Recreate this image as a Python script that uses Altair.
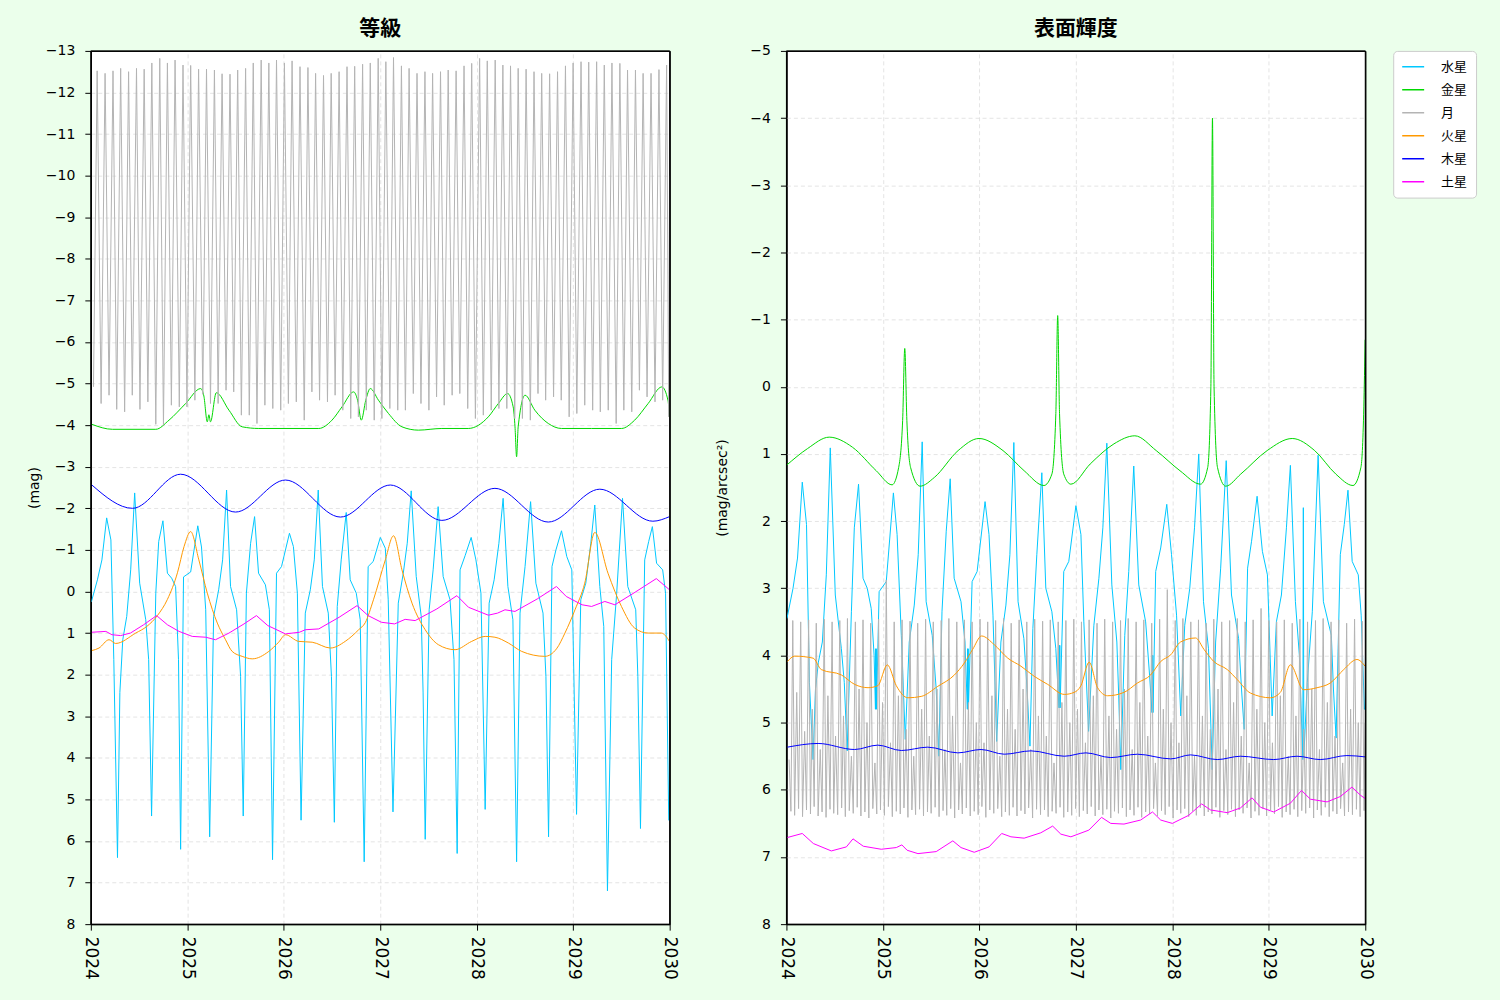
import altair as alt
import pandas as pd

BODIES = ["水星", "金星", "月", "火星", "木星", "土星"]
COLORS = ["#00c8ff", "#00d800", "#b4b4b4", "#ff9900", "#0000ff", "#ff00ff"]

# ---------------- Mercury (days since 2024-01-01) ----------------
merc_day = [2, 25, 42, 60, 76, 87, 101, 110, 121, 136,
            151, 166, 185, 208, 219, 230, 246, 257, 273, 290,
            306, 321, 332, 340, 351, 378, 405, 419, 435, 450,
            465, 484, 499, 514, 529, 552, 567, 577, 589, 605,
            620, 635, 661, 676, 688, 703, 722, 752, 767, 782,
            796, 812, 831, 846, 861, 877, 899, 911, 922, 933,
            948, 967, 982, 1005, 1020, 1035, 1050, 1069, 1096, 1115,
            1126, 1144, 1164, 1183, 1198, 1213, 1232, 1251, 1258, 1266,
            1281, 1296, 1315, 1334, 1360, 1375, 1387, 1398, 1417, 1440,
            1458, 1477, 1493, 1508, 1527, 1545, 1561, 1579, 1598, 1612,
            1625, 1644, 1665, 1685, 1712, 1723, 1733, 1746, 1761, 1782,
            1802, 1821, 1839, 1855, 1874, 1893, 1908, 1927, 1942, 1956,
            1972, 1991, 2013, 2033, 2063, 2071, 2081, 2097, 2112, 2126,
            2142, 2165, 2176, 2188, 2191]
merc_mag = [0.25, -0.28, -0.76, -1.77, -1.24, 1.64, 6.4, 2.43, 1.16, 0.6,
            -0.52, -2.37, -0.2, 0.68, 1.64, 5.4, 0.04, -1.2, -1.7, -0.44,
            -0.32, -0.12, 1.64, 6.2, -0.35, -0.47, -1.58, -1.07, 0.44, 5.9,
            0.6, -0.04, -0.76, -2.44, -0.12, 0.44, 2.04, 5.4, 0.04, -1.16,
            -1.8, -0.44, -0.16, 0.44, 6.45, -0.44, -0.6, -1.4, -1.08, 0.04,
            5.5, 0.52, -0.04, -0.76, -2.44, -0.12, 0.52, 2.04, 5.55, 0.36,
            -0.76, -1.9, -0.28, 0.04, 0.68, 6.5, -0.6, -0.72, -1.3, -1.04,
            0.2, 5.3, 0.28, -0.44, -1.16, -2.42, -0.36, 0.6, 2.44, 5.96,
            0.44, -0.52, -2.04, -0.36, 0.2, 1.64, 6.3, -0.52, -0.86, -1.3,
            -0.76, 0.04, 5.24, 0.28, -0.28, -1.16, -2.24, -0.12, 0.68, 6.5,
            0.52, -0.6, -2.16, -0.2, 0.52, 2.04, 5.9, -0.6, -1.0, -1.46,
            -0.84, -0.52, 5.36, 0.2, -0.2, -1.16, -2.08, -0.12, 0.84, 7.2,
            1.64, 0.04, -2.24, -0.12, 0.44, 2.04, 5.7, -0.76, -1.2, -1.56,
            -0.68, -0.52, 0.04, 5.5, 5.5]
merc_sb_day = [2, 25, 42, 60, 76, 87, 101, 110, 121, 136,
               151, 166, 185, 208, 219, 230, 246, 257, 273, 290,
               306, 321, 332, 337, 338, 339, 340, 341, 351, 378, 405, 419, 435, 450,
               465, 484, 499, 514, 529, 552, 567, 577, 589, 605,
               620, 635, 661, 676, 685, 686, 687, 688, 689, 703, 722, 752, 767, 782,
               796, 812, 831, 846, 861, 877, 899, 911, 922, 933,
               948, 967, 982, 1005, 1020, 1032, 1033, 1034, 1035, 1036, 1050, 1069, 1096, 1115,
               1126, 1144, 1164, 1183, 1198, 1213, 1232, 1251, 1258, 1266,
               1281, 1296, 1315, 1334, 1360, 1375, 1384, 1385, 1386, 1387, 1388, 1398, 1417, 1440,
               1458, 1477, 1493, 1508, 1527, 1545, 1561, 1579, 1598, 1612,
               1625, 1644, 1665, 1685, 1712, 1723, 1733, 1746, 1761, 1782,
               1802, 1821, 1839, 1855, 1874, 1893, 1908, 1927, 1942, 1955, 1957, 1959,
               1972, 1991, 2013, 2033, 2063, 2071, 2081, 2097, 2112, 2126,
               2142, 2165, 2176, 2188, 2191]
merc_sb = [3.45, 3.0, 2.55, 1.42, 2.05, 4.4, 5.55, 4.5, 4.1, 3.8,
           2.8, 0.91, 3.1, 3.9, 4.4, 5.42, 3.35, 2.1, 1.45, 2.85,
           3.0, 3.3, 4.0, 4.8, 3.9, 4.8, 3.9, 4.8, 3.05, 2.9, 1.58, 2.2, 3.7, 5.25,
           3.8, 3.25, 2.5, 0.82, 3.2, 3.7, 4.5, 5.5, 3.35, 2.15,
           1.37, 2.85, 3.2, 3.8, 4.8, 3.9, 4.8, 3.9, 4.8, 2.9, 2.75, 1.71, 2.2, 3.4,
           5.28, 3.8, 3.25, 2.5, 0.83, 3.2, 3.75, 4.5, 5.35, 3.6,
           2.5, 1.28, 3.0, 3.35, 3.9, 4.78, 3.85, 4.78, 3.85, 4.78, 2.75, 2.6, 1.77, 2.2,
           3.5, 5.13, 3.55, 2.85, 2.1, 0.84, 2.95, 3.8, 4.6, 5.7,
           3.7, 2.75, 1.18, 2.95, 3.5, 4.3, 4.85, 4.0, 4.85, 4.0, 4.85, 2.75, 2.4, 1.75,
           2.5, 3.4, 4.9, 3.55, 3.0, 2.1, 1.0, 3.2, 3.9, 5.7,
           3.8, 2.7, 1.1, 3.1, 3.75, 4.5, 5.1, 2.7, 2.3, 1.63,
           2.45, 2.8, 4.9, 3.5, 3.1, 2.1, 1.17, 3.2, 4.0, 5.55, 1.8, 5.5,
           4.4, 3.35, 1.02, 3.2, 3.7, 4.5, 5.23, 2.5, 2.05, 1.54,
           2.6, 2.8, 3.4, 4.8, 4.8]

# ---------------- Venus ----------------
ven_day = [4, 82, 246, 296, 359, 416, 428, 441, 447, 453,
           475, 523, 573, 636, 863, 913, 951, 995, 1010, 1024,
           1041, 1058, 1089, 1127, 1178, 1240, 1329, 1429, 1505, 1543,
           1578, 1599, 1606, 1612, 1618, 1644, 1681, 1732, 1782, 1896,
           2009, 2059, 2110, 2162, 2185, 2191]
ven_mag = [-4.02, -3.9, -3.9, -4.12, -4.52, -4.88, -4.7, -4.08, -4.25, -4.08,
           -4.78, -4.36, -3.96, -3.92, -3.92, -4.12, -4.44, -4.8, -4.6, -4.12,
           -4.6, -4.88, -4.6, -4.28, -3.96, -3.88, -3.92, -3.92, -4.2, -4.52,
           -4.76, -4.44, -3.96, -3.24, -3.96, -4.72, -4.36, -4.04, -3.92, -3.92,
           -3.92, -4.12, -4.52, -4.92, -4.6, -4.2]
ven_sb_day = [0, 80, 162, 250, 340, 400, 425, 440, 448, 456,
              470, 506, 560, 650, 729, 820, 900, 975, 1005, 1020,
              1027, 1034, 1050, 1077, 1150, 1240, 1319, 1400, 1490, 1568,
              1595, 1607, 1613, 1619, 1632, 1663, 1720, 1820, 1915, 2000,
              2080, 2145, 2175, 2186, 2191]
ven_sb = [1.17, 0.92, 0.75, 0.9, 1.25, 1.46, 1.2, 0.5, -0.57, 0.5,
          1.2, 1.48, 1.35, 0.95, 0.77, 0.95, 1.25, 1.47, 1.3, 0.4,
          -1.06, 0.4, 1.3, 1.45, 1.15, 0.85, 0.73, 0.95, 1.25, 1.45,
          1.2, 0.0, -4.0, 0.0, 1.2, 1.48, 1.3, 0.95, 0.77, 0.95,
          1.3, 1.47, 1.2, 0.3, -0.7]

# ---------------- Moon ----------------
moon_nm_day = [10, 39, 69, 98, 128, 157, 186, 216, 246, 275, 305, 335, 364,
               394, 424, 453, 482, 512, 541, 570, 600, 629, 659, 689, 719,
               748, 778, 808, 837, 866, 896, 925, 954, 984, 1013, 1043, 1073,
               1102, 1132, 1162, 1191, 1221, 1250, 1280, 1309, 1338, 1368, 1397, 1427, 1456,
               1486, 1516, 1545, 1575, 1605, 1634, 1664, 1693, 1722, 1752, 1781, 1811,
               1840, 1870, 1900, 1929, 1959, 1989, 2018, 2048, 2077, 2106, 2136, 2165]
moon_fm_day = [24, 54, 84, 113, 143, 173, 202, 231, 261, 290, 319, 349,
               378, 408, 438, 468, 497, 527, 556, 586, 615, 645, 674, 703,
               733, 762, 792, 822, 851, 881, 910, 940, 970, 999, 1029, 1058, 1088,
               1117, 1146, 1176, 1205, 1235, 1265, 1294, 1324, 1353, 1383, 1413, 1442,
               1472, 1501, 1531, 1560, 1589, 1618, 1648, 1678, 1707, 1737, 1767, 1797, 1826,
               1856, 1885, 1915, 1944, 1973, 2003, 2032, 2062, 2091, 2121, 2151, 2180]
moon_q_day = [17, 31, 46, 61, 76, 91, 105, 120, 135, 150, 165, 179,
              194, 209, 223, 238, 253, 268, 282, 297, 312, 327, 342, 356,
              371, 386, 401, 416, 431, 445, 460, 475, 489, 504, 519, 534,
              548, 563, 578, 593, 607, 622, 637, 652, 666, 681, 696, 711,
              726, 740, 755, 770, 785, 800, 815, 829, 844, 858, 873, 888,
              903, 917, 932, 947, 962, 977, 991, 1006, 1021, 1036, 1050, 1065,
              1080, 1095, 1109, 1124, 1139, 1154, 1169, 1183, 1198, 1213, 1228, 1242,
              1257, 1272, 1287, 1301, 1316, 1331, 1345, 1360, 1375, 1390, 1405, 1420,
              1434, 1449, 1464, 1479, 1493, 1508, 1523, 1538, 1552, 1567, 1582, 1597,
              1611, 1626, 1641, 1656, 1671, 1685, 1700, 1714, 1729, 1744, 1759, 1774,
              1789, 1804, 1818, 1833, 1848, 1863, 1877, 1892, 1907, 1922, 1936, 1951,
              1966, 1981, 1996, 2010, 2025, 2040, 2055, 2069, 2084, 2098, 2113, 2128,
              2143, 2158, 2172, 2187]
moon_nm_mag = [-4.92, -4.52, -4.72, -4.38, -4.32, -4.72, -4.38, -4.56, -4.02, -4.0, -4.48, -4.44, -4.44,
               -4.6, -4.74, -4.52, -4.52, -4.84, -4.8, -4.24, -4.24, -4.04, -4.48, -4.4, -4.36,
               -4.52, -4.56, -4.12, -4.8, -4.6, -4.56, -4.72, -4.36, -4.16, -4.2, -4.36, -4.12,
               -4.16, -4.4, -4.36, -4.36, -4.76, -4.52, -4.36, -4.68, -4.48, -4.72, -4.76, -4.4, -4.16,
               -4.24, -4.36, -4.4, -4.4, -4.16, -4.16, -4.12, -4.76, -4.6, -4.68, -4.6, -4.2,
               -4.28, -4.48, -4.36, -4.32, -4.36, -4.04, -4.36, -4.32, -4.84, -4.68, -4.56, -4.6]
moon_fm_mag = [-12.52, -12.46, -12.52, -12.58, -12.50, -12.58, -12.56, -12.71, -12.82, -12.71, -12.78, -12.66,
               -12.65, -12.56, -12.56, -12.54, -12.45, -12.44, -12.54, -12.58, -12.71, -12.78, -12.71, -12.78,
               -12.71, -12.76, -12.62, -12.60, -12.46, -12.41, -12.46, -12.50, -12.62, -12.63, -12.68, -12.71, -12.82,
               -12.74, -12.84, -12.64, -12.58, -12.46, -12.50, -12.46, -12.50, -12.54, -12.52, -12.64, -12.70,
               -12.82, -12.76, -12.78, -12.66, -12.64, -12.58, -12.56, -12.50, -12.46, -12.45, -12.50, -12.64, -12.71,
               -12.74, -12.73, -12.74, -12.66, -12.71, -12.70, -12.54, -12.54, -12.46, -12.46, -12.55, -12.66]
moon_end_day = [2188, 2191]
moon_end_mag = [-4.2, -10.0]
moon_nm_sb = [5.55, 4.55, 5.13, 4.8, 5.4, 4.6, 5.2, 4.9, 5.5, 4.5, 5.0, 5.6, 4.7,
              5.3, 4.6, 5.1, 5.5, 4.8, 5.2, 4.5, 5.4, 4.9, 5.6, 4.7, 5.0,
              5.3, 4.6, 5.5, 4.8, 5.1, 4.5, 5.4, 4.9, 5.2, 5.6, 4.7, 5.0,
              4.8, 5.3, 4.6, 5.5, 4.9, 5.1, 4.5, 5.4, 4.7, 5.2, 5.6, 4.8, 5.0,
              5.3, 4.6, 5.5, 4.9, 5.1, 4.5, 5.4, 4.7, 5.2, 5.6, 4.8, 5.0,
              5.3, 4.6, 5.5, 4.9, 5.1, 4.5, 5.4, 4.7, 5.2, 5.6, 4.8, 5.0]
moon_fm_sb = [3.48, 3.5, 3.47, 3.52, 3.46, 3.5, 3.48, 3.45, 3.5, 3.47, 3.52, 3.46,
              2.88, 3.5, 3.47, 3.49, 3.52, 3.46, 3.5, 3.48, 3.45, 3.5, 3.47, 3.5,
              3.46, 3.5, 3.48, 3.45, 3.52, 3.47, 3.5, 3.46, 3.49, 3.47, 3.5, 3.48, 3.46,
              3.5, 3.47, 3.52, 3.46, 3.5, 3.48, 3.45, 3.5, 3.47, 3.52, 3.46, 3.02,
              3.48, 3.45, 3.5, 3.47, 3.52, 3.46, 3.5, 3.48, 3.45, 3.5, 3.47, 3.3, 3.48,
              3.5, 3.47, 3.52, 3.46, 3.5, 3.48, 3.45, 3.5, 3.47, 3.52, 3.46, 3.49]
moon_q_sb = [6.32, 6.38, 6.28, 6.4, 6.3, 6.36, 6.25, 6.39, 6.33, 6.41, 6.29, 6.35,
             6.37, 6.27, 6.4, 6.31, 6.35, 6.26, 6.39, 6.33, 6.42, 6.28, 6.36, 6.3,
             6.38, 6.25, 6.4, 6.32, 6.36, 6.27, 6.41, 6.3, 6.37, 6.29, 6.39, 6.33,
             6.35, 6.26, 6.4, 6.31, 6.38, 6.28, 6.42, 6.3, 6.36, 6.27, 6.39, 6.32,
             6.37, 6.25, 6.41, 6.3, 6.35, 6.28, 6.4, 6.33, 6.38, 6.26, 6.39, 6.31,
             6.36, 6.27, 6.42, 6.29, 6.37, 6.3, 6.4, 6.32, 6.35, 6.26, 6.41, 6.33,
             6.38, 6.28, 6.4, 6.31, 6.36, 6.25, 6.39, 6.3, 6.37, 6.29, 6.42, 6.32,
             6.35, 6.27, 6.4, 6.3, 6.38, 6.26, 6.41, 6.33, 6.36, 6.28, 6.39, 6.31,
             6.37, 6.25, 6.42, 6.3, 6.35, 6.28, 6.4, 6.32, 6.38, 6.27, 6.39, 6.33,
             6.36, 6.26, 6.41, 6.31, 6.37, 6.29, 6.4, 6.3, 6.35, 6.27, 6.42, 6.32,
             6.38, 6.28, 6.39, 6.3, 6.36, 6.25, 6.41, 6.33, 6.37, 6.29, 6.4, 6.31,
             6.35, 6.27, 6.42, 6.3, 6.38, 6.26, 6.4, 6.32, 6.36, 6.28, 6.39, 6.33,
             6.37, 6.29, 6.4, 6.31]
moon_sb_end_day = [2191]
moon_sb_end = [5.0]

# ---------------- Mars ----------------
mars_day = [4, 31, 69, 94, 170, 212, 252, 290, 328, 353,
            378, 409, 441, 479, 510, 535, 573, 611, 674, 711,
            737, 787, 838, 907, 963, 1014, 1039, 1070, 1115, 1146,
            1178, 1216, 1266, 1316, 1379, 1442, 1493, 1530, 1581, 1631,
            1719, 1763, 1795, 1833, 1870, 1908, 1958, 2009, 2059, 2110,
            2160, 2191]
mars_mag = [1.42, 1.36, 1.16, 1.25, 1.0, 0.84, 0.58, 0.19, -0.45, -1.08,
            -1.44, -0.76, 0.04, 0.76, 1.16, 1.44, 1.56, 1.62, 1.44, 1.22,
            1.04, 1.2, 1.22, 1.36, 1.2, 0.92, 0.75, 0.2, -0.76, -1.34,
            -0.52, 0.28, 0.92, 1.28, 1.4, 1.2, 1.08, 1.1, 1.24, 1.44,
            1.56, 1.38, 1.0, 0.44, -0.2, -1.42, -0.44, 0.36, 0.88, 1.0,
            1.0, 1.2]
mars_sb_day = [4, 31, 101, 132, 208, 258, 309, 346, 382, 416,
               460, 510, 573, 636, 674, 705, 739, 787, 838, 888,
               938, 989, 1052, 1089, 1115, 1146, 1178, 1216, 1278, 1329,
               1379, 1417, 1455, 1492, 1549, 1581, 1618, 1669, 1707, 1757,
               1833, 1870, 1908, 1958, 2009, 2059, 2110, 2160, 2191]
mars_sb = [4.09, 4.01, 4.04, 4.21, 4.29, 4.43, 4.48, 4.45, 4.14, 4.45,
           4.63, 4.61, 4.46, 4.29, 4.11, 3.91, 3.71, 3.84, 4.04, 4.16,
           4.31, 4.43, 4.58, 4.55, 4.45, 4.1, 4.48, 4.6, 4.55, 4.41,
           4.29, 4.09, 3.99, 3.8, 3.74, 3.91, 4.09, 4.21, 4.36, 4.56,
           4.63, 4.55, 4.14, 4.51, 4.48, 4.41, 4.21, 4.06, 4.16]

# ---------------- Jupiter ----------------
jup_day = [4, 158, 340, 548, 737, 945, 1134, 1329, 1530, 1732, 1927, 2128, 2191]
jup_mag = [-2.56, -2.0, -2.82, -1.91, -2.68, -1.79, -2.56, -1.71, -2.48, -1.67, -2.46, -1.69, -1.8]
jup_sb_day = [4, 120, 258, 346, 435, 535, 649, 737, 825, 926,
              1052, 1134, 1228, 1329, 1455, 1530, 1631, 1719, 1845, 1933,
              2021, 2122, 2191]
jup_sb = [5.365, 5.31, 5.4, 5.335, 5.415, 5.365, 5.45, 5.4, 5.47, 5.42,
          5.5, 5.45, 5.52, 5.47, 5.54, 5.48, 5.55, 5.5, 5.55, 5.5,
          5.55, 5.49, 5.51]

# ---------------- Saturn ----------------
sat_day = [4, 57, 80, 113, 150, 200, 249, 290, 334, 384,
           435, 472, 523, 580, 627, 670, 737, 790, 812, 863,
           940, 1008, 1050, 1100, 1150, 1190, 1228, 1310, 1386, 1430,
           1505, 1540, 1568, 1606, 1690, 1763, 1800, 1860, 1896, 1946,
           1984, 2060, 2141, 2191]
sat_mag = [0.98, 0.96, 1.04, 1.06, 1.0, 0.8, 0.58, 0.8, 0.96, 1.08,
           1.1, 1.16, 1.0, 0.78, 0.58, 0.82, 1.02, 0.98, 0.92, 0.9,
           0.62, 0.34, 0.58, 0.74, 0.78, 0.67, 0.7, 0.42, 0.1, 0.38,
           0.57, 0.52, 0.44, 0.48, 0.18, -0.12, 0.12, 0.32, 0.36, 0.24,
           0.32, 0.02, -0.31, -0.04]
sat_sb_day = [4, 60, 102, 170, 227, 252, 291, 359, 416, 437,
              457, 498, 567, 630, 661, 711, 767, 815, 850, 900,
              963, 1008, 1039, 1077, 1145, 1193, 1228, 1278, 1341, 1386,
              1417, 1461, 1523, 1572, 1606, 1669, 1719, 1763, 1795, 1845,
              1908, 1950, 1984, 2047, 2097, 2141, 2173, 2191]
sat_sb = [6.71, 6.65, 6.8, 6.91, 6.85, 6.73, 6.84, 6.885, 6.86, 6.82,
          6.9, 6.95, 6.92, 6.76, 6.86, 6.93, 6.85, 6.65, 6.7, 6.72,
          6.64, 6.54, 6.66, 6.7, 6.6, 6.41, 6.5, 6.51, 6.45, 6.33,
          6.45, 6.5, 6.38, 6.21, 6.3, 6.34, 6.27, 6.12, 6.26, 6.33,
          6.2, 6.01, 6.14, 6.18, 6.1, 5.96, 6.08, 6.13]

pairs = [(merc_day, merc_mag), (merc_sb_day, merc_sb), (ven_day, ven_mag), (ven_sb_day, ven_sb),
         (moon_nm_day, moon_nm_mag), (moon_fm_day, moon_fm_mag), (moon_nm_day, moon_nm_sb),
         (moon_fm_day, moon_fm_sb), (moon_q_day, moon_q_sb), (mars_day, mars_mag),
         (mars_sb_day, mars_sb), (jup_day, jup_mag), (jup_sb_day, jup_sb),
         (sat_day, sat_mag), (sat_sb_day, sat_sb)]
for a, b in pairs:
    assert len(a) == len(b), (len(a), len(b))


def series(points, body):
    points = sorted(points)
    return pd.DataFrame({
        "year": [2024 + d / 365.25 for d, _ in points],
        "v": [v for _, v in points],
        "body": [body] * len(points),
    })


moon_left = series(list(zip(moon_nm_day, moon_nm_mag)) + list(zip(moon_fm_day, moon_fm_mag))
                   + list(zip(moon_end_day, moon_end_mag)), "月")
moon_right = series(list(zip(moon_nm_day, moon_nm_sb)) + list(zip(moon_fm_day, moon_fm_sb))
                    + list(zip(moon_q_day, moon_q_sb)) + list(zip(moon_sb_end_day, moon_sb_end)), "月")

left_specs = [
    (series(list(zip(merc_day, merc_mag)), "水星"), "linear"),
    (series(list(zip(ven_day, ven_mag)), "金星"), "monotone"),
    (moon_left, "linear"),
    (series(list(zip(mars_day, mars_mag)), "火星"), "monotone"),
    (series(list(zip(jup_day, jup_mag)), "木星"), "monotone"),
    (series(list(zip(sat_day, sat_mag)), "土星"), "linear"),
]
right_specs = [
    (series(list(zip(merc_sb_day, merc_sb)), "水星"), "linear"),
    (series(list(zip(ven_sb_day, ven_sb)), "金星"), "monotone"),
    (moon_right, "linear"),
    (series(list(zip(mars_sb_day, mars_sb)), "火星"), "monotone"),
    (series(list(zip(jup_sb_day, jup_sb)), "木星"), "monotone"),
    (series(list(zip(sat_sb_day, sat_sb)), "土星"), "linear"),
]

PLOT_W, PLOT_H = 580, 875
GRID = "#dddddd"


def edge_color(test):
    return alt.condition(test, alt.value("black"), alt.value(GRID))


def edge_dash(test):
    return alt.condition(test, alt.value([1, 0]), alt.value([4, 3]))


def edge_width(test):
    return alt.condition(test, alt.value(1), alt.value(0.8))


color = alt.Color("body:N", scale=alt.Scale(domain=BODIES, range=COLORS),
                  legend=alt.Legend(title=None))
x_test = "datum.value == 2024 || datum.value == 2030"
x_enc = alt.X("year:Q", scale=alt.Scale(domain=[2024, 2030], nice=False, zero=False),
              axis=alt.Axis(values=list(range(2024, 2031)), format="d", title=None,
                            labelAngle=90, labelAlign="left", labelBaseline="middle",
                            labelFlush=False, labelOverlap=False, labelPadding=6,
                            labelFontSize=17, gridColor=edge_color(x_test),
                            gridDash=edge_dash(x_test), gridWidth=edge_width(x_test)))


def panel(specs, ymin, ymax, ytitle, title, title_pad):
    y_test = f"datum.value == {ymin} || datum.value == {ymax}"
    y_enc = alt.Y("v:Q", scale=alt.Scale(domain=[ymin, ymax], reverse=True, nice=False, zero=False),
                  axis=alt.Axis(values=list(range(ymin, ymax + 1)), title=ytitle,
                                labelPadding=10, titlePadding=title_pad, labelOverlap=False,
                                gridColor=edge_color(y_test), gridDash=edge_dash(y_test),
                                gridWidth=edge_width(y_test)))
    layers = [alt.Chart(df).mark_line(strokeWidth=1, interpolate=interp, clip=True)
              .encode(x=x_enc, y=y_enc, color=color)
              for df, interp in specs]
    frame = alt.Chart(pd.DataFrame({"f": [0]})).mark_rect(
        fillOpacity=0, stroke="black", strokeWidth=1
    ).encode(x=alt.value(0), x2=alt.value(PLOT_W), y=alt.value(0), y2=alt.value(PLOT_H))
    return alt.layer(*layers, frame).properties(
        width=PLOT_W, height=PLOT_H,
        title=alt.TitleParams(text=title, frame="group", anchor="middle", fontSize=21,
                              font="Noto Sans CJK JP", fontWeight="bold", color="black", offset=5))


left = panel(left_specs, -13, 8, "(mag)", "等級", 4)
right = panel(right_specs, -5, 8, "(mag/arcsec²)", "表面輝度", 20)

chart = alt.hconcat(left, right, spacing=35).resolve_scale(
    color="shared", y="independent"
).configure(
    background="#ebffeb",
    padding={"left": 26, "top": 16, "right": 23, "bottom": 20},
).configure_view(
    stroke="black", strokeWidth=1, fill="white"
).configure_axis(
    grid=True,
    domainColor="black", tickColor="black", tickSize=6,
    labelFont="DejaVu Sans", labelFontSize=14, labelColor="black",
    titleFont="DejaVu Sans", titleFontSize=14, titleFontWeight="normal", titleColor="black",
).configure_legend(
    orient="right", offset=18, fillColor="white", strokeColor="#cccccc", cornerRadius=4,
    padding=8, labelFont="Noto Sans CJK JP", labelFontSize=13, labelColor="black",
    symbolType="stroke", symbolSize=484, symbolStrokeWidth=1.5, labelOffset=16,
    rowPadding=7, clipHeight=16,
)

chart.save("out.html", embed_options={"renderer": "svg", "actions": False})
